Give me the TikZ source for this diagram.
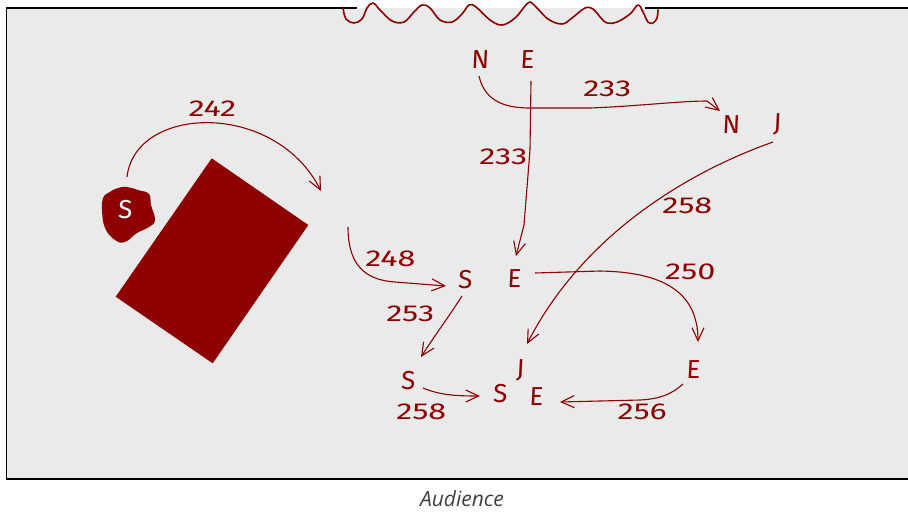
\documentclass[tikz,border=0pt]{standalone}
\usepackage{fontspec}
\setmainfont{Fira Sans}
\newfontfamily\hand[FakeSlant=0.05]{Fira Sans}
\newfontfamily\digitfont[FakeStretch=1.4,FakeSlant=0.05]{Fira Sans}
\newfontfamily\audfont{Open Sans}
\usetikzlibrary{arrows.meta}
\definecolor{stagered}{RGB}{142,0,0}
\definecolor{stagebg}{RGB}{234,234,234}
\begin{document}
\begin{tikzpicture}[x=1pt,y=-1pt,
  lbl/.style={text=stagered,font=\hand\fontsize{26}{26}\selectfont,inner sep=0pt},
  num/.style={text=stagered,font=\digitfont\fontsize{23}{23}\selectfont,inner sep=0pt},
  conn/.style={draw=stagered,line width=1.1pt,-{Straight Barb[length=13pt,width=12pt,line width=1.1pt]}},
  curtain/.style={draw=stagered,line width=1.6pt,line cap=round,line join=round}]
\useasboundingbox (0,0) rectangle (908,512);
% stage
\fill[stagebg] (6.5,8) rectangle (912,479);
\draw[black,line width=1.8pt] (357,8) -- (6.5,8) -- (6.5,479) -- (912,479);
\draw[black,line width=1.8pt] (645,8) -- (912,8);
% curtain
\draw[curtain] plot[smooth,tension=0.6] coordinates {(343,8) (346,19) (354,23) (362,19) (367,8) (373,3) (380,10) (392,21) (404,22) (414,12) (422,5) (430,8) (440,20) (452,22) (462,14) (469,5) (476,7) (490,20) (502,25) (515,18) (528,3) (534,5) (548,19) (562,24) (572,18) (585,8) (593,9) (601,18) (607,23) (617,22) (630,14) (638,5) (643,12) (648,22) (653,23) (657,18) (658,10)};
% table
\fill[stagered] (211.7,158.3) -- (308.3,225) -- (212.7,363.3) -- (115.7,296.7) -- cycle;
% blob
\fill[stagered] plot[smooth cycle,tension=0.7] coordinates {(108,193) (118,188) (127,187) (138,190) (149,194) (151,205) (155,220) (149,227) (137,233) (125,242) (115,240) (105,228) (102,210) (103,198)};
\node[lbl,text=white] (blobS) at (125,210) {S};
% labels
\node[lbl] (NEn) at (480,60) {N};
\node[lbl] (NEe) at (527,60) {E};
\node[lbl] (NJn) at (731,125) {N};
\node[lbl] (NJj) at (777,124) {J};
\node[lbl] (SEs) at (465,280) {S};
\node[lbl] (SEe) at (514,279) {E};
\node[lbl] (Ls) at (408,381) {S};
\node[lbl] (Mj) at (520,370) {J};
\node[lbl] (Bs) at (500,394) {S};
\node[lbl] (Be) at (536,397) {E};
\node[lbl] (Re) at (693,370) {E};
% numbers
\node[num] (n242) at (212,109) {242};
\node[num] (n233a) at (607,89) {233};
\node[num] (n233b) at (503,157) {233};
\node[num] (n258a) at (687,206) {258};
\node[num] (n248) at (390,259) {248};
\node[num] (n250) at (690,272) {250};
\node[num] (n253) at (410,314) {253};
\node[num] (n258b) at (421,412) {258};
\node[num] (n256) at (642,412) {256};
% connector end points
\coordinate (c242s) at (127,177);
\coordinate (c242e) at (321,191);
\coordinate (c248s) at (348,227);
\coordinate (c248e) at (446,286);
\coordinate (c233hs) at (479,76);
\coordinate (c233he) at (720,111);
\coordinate (c233vs) at (531,81);
\coordinate (c233ve) at (516,256);
\coordinate (c258s) at (773,142);
\coordinate (c258e) at (527,344);
\coordinate (c250s) at (535,273);
\coordinate (c250e) at (698,342);
\coordinate (c253s) at (462,296);
\coordinate (c253e) at (421,357);
\coordinate (c258bs) at (423,388);
\coordinate (c258be) at (480,396);
\coordinate (c256s) at (683,384);
\coordinate (c256e) at (560,402);
% connectors
\draw[conn] (c242s) .. controls (135,105) and (275,100) .. (c242e);
\draw[conn] (c248s) .. controls (348,265) and (365,280) .. (395,282) -- (c248e);
\draw[conn] (c233hs) .. controls (485,103) and (508,108) .. (530,108) -- (590,108) .. controls (640,106) and (680,101) .. (707,101) -- (c233he);
\draw[conn] (c233vs) -- (530,150) -- (524,225) -- (c233ve);
\draw[conn] (c258s) .. controls (680,175) and (580,240) .. (c258e);
\draw[conn] (c250s) -- (600,271) .. controls (660,272) and (698,290) .. (c250e);
\draw[conn] (c253s) .. controls (448,318) and (435,335) .. (c253e);
\draw[conn] (c258bs) .. controls (440,395) and (455,396) .. (c258be);
\draw[conn] (c256s) .. controls (672,394) and (660,399) .. (640,400) -- (c256e);
% audience
\node[text=black!75,inner sep=0pt,font=\audfont\itshape\fontsize{21}{21}\selectfont] (aud) at (462,499) {Audience};
\end{tikzpicture}
\end{document}
